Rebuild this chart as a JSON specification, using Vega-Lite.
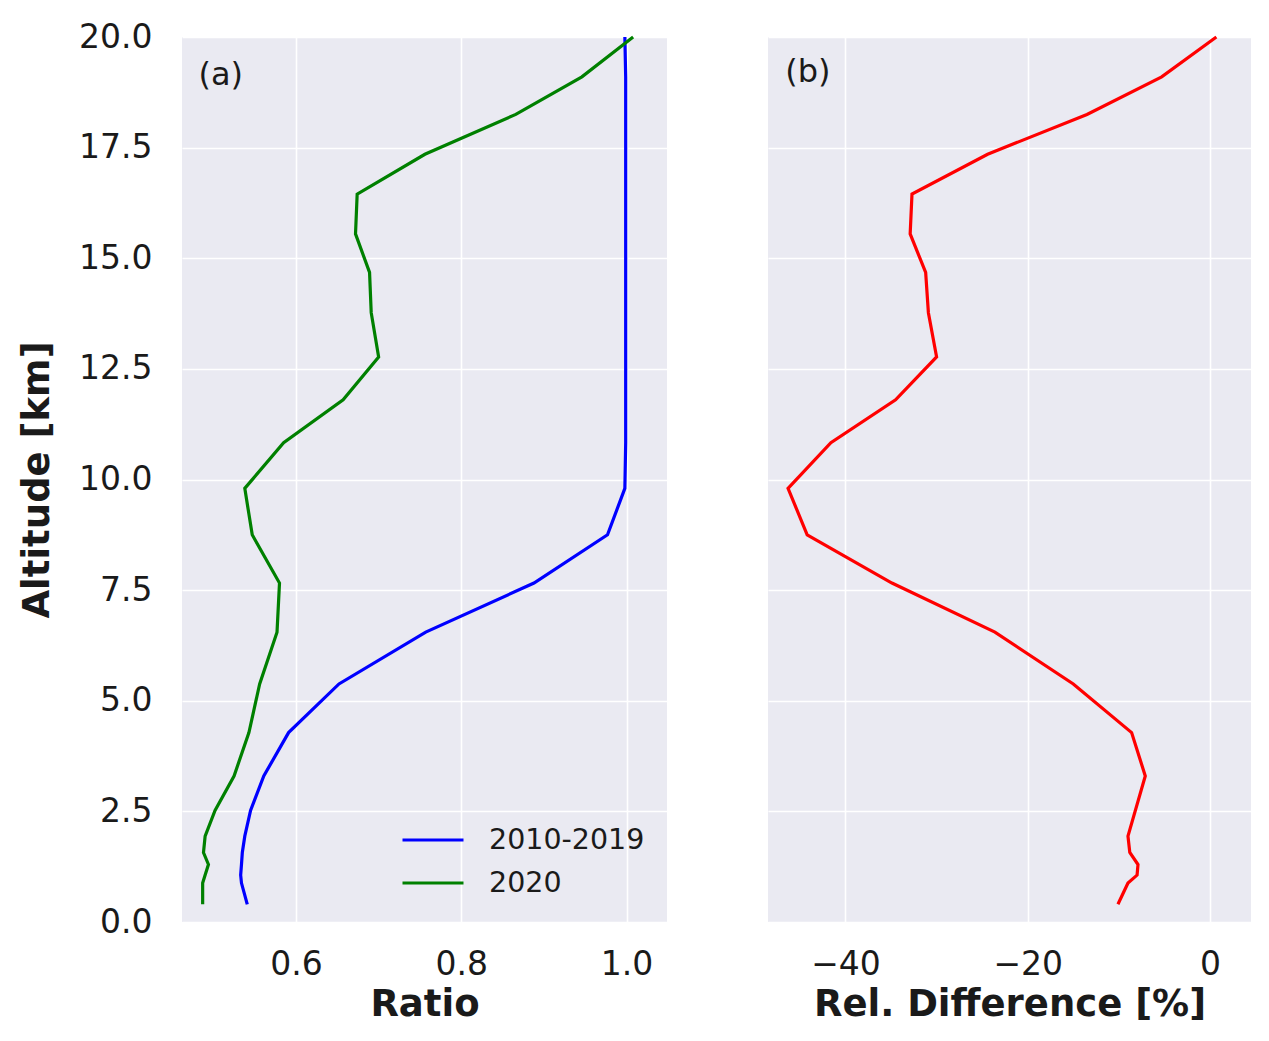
{
  "$schema": "https://vega.github.io/schema/vega-lite/v6.json",
  "padding": {"left": 18, "top": 21, "right": 5, "bottom": 5},
  "background": "#FFFFFF",
  "spacing": 101,
  "datasets": {
    "profiles": [
      {"alt": 20.0, "series": "2010-2019", "ratio": 0.998},
      {"alt": 19.1, "series": "2010-2019", "ratio": 0.999},
      {"alt": 18.25, "series": "2010-2019", "ratio": 0.999},
      {"alt": 17.35, "series": "2010-2019", "ratio": 0.999},
      {"alt": 16.45, "series": "2010-2019", "ratio": 0.999},
      {"alt": 15.55, "series": "2010-2019", "ratio": 0.999},
      {"alt": 14.68, "series": "2010-2019", "ratio": 0.999},
      {"alt": 13.77, "series": "2010-2019", "ratio": 0.999},
      {"alt": 12.77, "series": "2010-2019", "ratio": 0.999},
      {"alt": 11.8, "series": "2010-2019", "ratio": 0.999},
      {"alt": 10.83, "series": "2010-2019", "ratio": 0.999},
      {"alt": 9.8, "series": "2010-2019", "ratio": 0.998},
      {"alt": 8.75, "series": "2010-2019", "ratio": 0.977},
      {"alt": 7.66, "series": "2010-2019", "ratio": 0.888},
      {"alt": 6.55, "series": "2010-2019", "ratio": 0.757},
      {"alt": 5.38, "series": "2010-2019", "ratio": 0.652},
      {"alt": 4.28, "series": "2010-2019", "ratio": 0.591},
      {"alt": 3.3, "series": "2010-2019", "ratio": 0.561},
      {"alt": 2.52, "series": "2010-2019", "ratio": 0.545},
      {"alt": 1.94, "series": "2010-2019", "ratio": 0.538},
      {"alt": 1.57, "series": "2010-2019", "ratio": 0.535},
      {"alt": 1.3, "series": "2010-2019", "ratio": 0.534},
      {"alt": 1.06, "series": "2010-2019", "ratio": 0.533},
      {"alt": 0.88, "series": "2010-2019", "ratio": 0.534},
      {"alt": 0.4, "series": "2010-2019", "ratio": 0.541},
      {"alt": 20.0, "series": "2020", "ratio": 1.008},
      {"alt": 19.1, "series": "2020", "ratio": 0.946},
      {"alt": 18.25, "series": "2020", "ratio": 0.866},
      {"alt": 17.35, "series": "2020", "ratio": 0.756},
      {"alt": 16.45, "series": "2020", "ratio": 0.674},
      {"alt": 15.55, "series": "2020", "ratio": 0.672},
      {"alt": 14.68, "series": "2020", "ratio": 0.689},
      {"alt": 13.77, "series": "2020", "ratio": 0.691},
      {"alt": 12.77, "series": "2020", "ratio": 0.700},
      {"alt": 11.8, "series": "2020", "ratio": 0.657},
      {"alt": 10.83, "series": "2020", "ratio": 0.585},
      {"alt": 9.8, "series": "2020", "ratio": 0.538},
      {"alt": 8.75, "series": "2020", "ratio": 0.547},
      {"alt": 7.66, "series": "2020", "ratio": 0.580},
      {"alt": 6.55, "series": "2020", "ratio": 0.577},
      {"alt": 5.38, "series": "2020", "ratio": 0.556},
      {"alt": 4.28, "series": "2020", "ratio": 0.543},
      {"alt": 3.3, "series": "2020", "ratio": 0.525},
      {"alt": 2.52, "series": "2020", "ratio": 0.502},
      {"alt": 1.94, "series": "2020", "ratio": 0.490},
      {"alt": 1.57, "series": "2020", "ratio": 0.488},
      {"alt": 1.3, "series": "2020", "ratio": 0.494},
      {"alt": 1.06, "series": "2020", "ratio": 0.490},
      {"alt": 0.88, "series": "2020", "ratio": 0.487},
      {"alt": 0.4, "series": "2020", "ratio": 0.487}
    ],
    "diff": [
      {"alt": 20.0, "diff": 0.7},
      {"alt": 19.1, "diff": -5.3},
      {"alt": 18.25, "diff": -13.5},
      {"alt": 17.35, "diff": -24.4},
      {"alt": 16.45, "diff": -32.7},
      {"alt": 15.55, "diff": -32.9},
      {"alt": 14.68, "diff": -31.2},
      {"alt": 13.77, "diff": -30.9},
      {"alt": 12.77, "diff": -30.0},
      {"alt": 11.8, "diff": -34.5},
      {"alt": 10.83, "diff": -41.6},
      {"alt": 9.8, "diff": -46.3},
      {"alt": 8.75, "diff": -44.2},
      {"alt": 7.66, "diff": -34.9},
      {"alt": 6.55, "diff": -23.6},
      {"alt": 5.38, "diff": -15.0},
      {"alt": 4.28, "diff": -8.6},
      {"alt": 3.3, "diff": -7.1},
      {"alt": 1.94, "diff": -9.0},
      {"alt": 1.57, "diff": -8.8},
      {"alt": 1.3, "diff": -7.9},
      {"alt": 1.06, "diff": -8.0},
      {"alt": 0.88, "diff": -9.0},
      {"alt": 0.4, "diff": -10.1}
    ]
  },
  "hconcat": [
    {
      "width": 485,
      "height": 885,
      "layer": [
        {
          "data": {"name": "profiles"},
          "mark": {"type": "line", "strokeWidth": 3.2},
          "encoding": {
            "x": {
              "field": "ratio", "type": "quantitative",
              "scale": {"domain": [0.462, 1.049], "nice": false, "zero": false},
              "axis": {"title": "Ratio", "values": [0.6, 0.8, 1.0], "format": ".1f", "labelPadding": 26, "titlePadding": 5}
            },
            "y": {
              "field": "alt", "type": "quantitative",
              "scale": {"domain": [0, 20], "nice": false, "zero": false},
              "axis": {"title": "Altitude [km]", "values": [0, 2.5, 5, 7.5, 10, 12.5, 15, 17.5, 20], "format": ".1f", "labelPadding": 30, "titlePadding": 22}
            },
            "color": {
              "field": "series", "type": "nominal",
              "scale": {"domain": ["2010-2019", "2020"], "range": ["#0000FF", "#008000"]},
              "legend": {
                "title": null,
                "orient": "none",
                "legendX": 234,
                "legendY": 786,
                "symbolType": "M-2,0H2",
                "symbolSize": 930,
                "symbolStrokeWidth": 3.2,
                "labelFontSize": 28.5,
                "labelOffset": 39,
                "rowPadding": 11,
                "padding": 0,
                "labelColor": "#1a1a1a"
              }
            },
            "order": {"field": "alt", "type": "quantitative"}
          }
        },
        {
          "data": {"values": [{}]},
          "mark": {"type": "text", "text": "(a)", "fontSize": 32, "align": "left", "baseline": "middle", "color": "#1a1a1a"},
          "encoding": {
            "x": {"datum": 0.482, "type": "quantitative"},
            "y": {"datum": 19.15, "type": "quantitative"}
          }
        }
      ]
    },
    {
      "width": 483,
      "height": 885,
      "layer": [
        {
          "data": {"name": "diff"},
          "mark": {"type": "line", "strokeWidth": 3.2, "color": "#FF0000"},
          "encoding": {
            "x": {
              "field": "diff", "type": "quantitative",
              "scale": {"domain": [-48.5, 4.5], "nice": false, "zero": false},
              "axis": {"title": "Rel. Difference [%]", "values": [-40, -20, 0], "format": "d", "labelPadding": 26, "titlePadding": 5}
            },
            "y": {
              "field": "alt", "type": "quantitative",
              "scale": {"domain": [0, 20], "nice": false, "zero": false},
              "axis": {"title": null, "labels": false, "values": [0, 2.5, 5, 7.5, 10, 12.5, 15, 17.5, 20]}
            },
            "order": {"field": "alt", "type": "quantitative"}
          }
        },
        {
          "data": {"values": [{}]},
          "mark": {"type": "text", "text": "(b)", "fontSize": 32, "align": "left", "baseline": "middle", "color": "#1a1a1a"},
          "encoding": {
            "x": {"datum": -46.6, "type": "quantitative"},
            "y": {"datum": 19.2, "type": "quantitative"}
          }
        }
      ]
    }
  ],
  "config": {
    "font": "DejaVu Sans",
    "view": {"fill": "#EAEAF2", "stroke": null},
    "axis": {
      "domain": false,
      "ticks": false,
      "grid": true,
      "gridColor": "#FFFFFF",
      "gridWidth": 1.6,
      "labelFontSize": 33,
      "labelColor": "#1a1a1a",
      "labelFont": "DejaVu Sans",
      "titleFont": "DejaVu Sans",
      "titleFontSize": 37,
      "titleFontWeight": "bold",
      "titleColor": "#1a1a1a"
    },
    "legend": {"labelFont": "DejaVu Sans"}
  }
}
